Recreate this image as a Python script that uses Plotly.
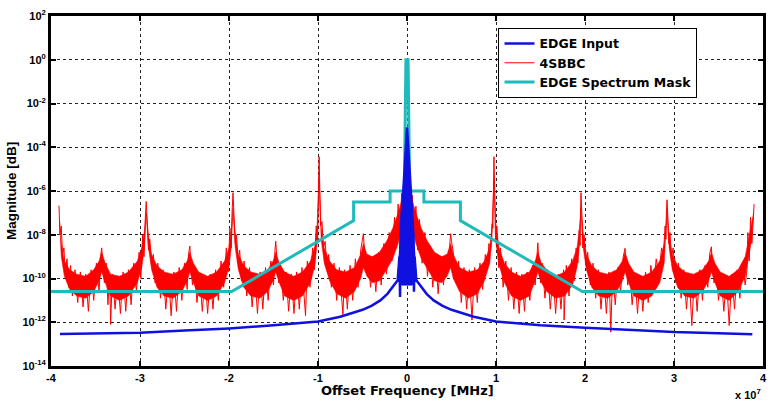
import plotly.graph_objects as go

# ---------------- data (x in units of 1e7, magnitudes as log10 values) ----------------
red_freq = [
    -3.91, -3.90, -3.885, -3.87, -3.855, -3.84, -3.82, -3.80, -3.78, -3.76, -3.73, -3.70, -3.67, -3.64,
    -3.61, -3.58, -3.55, -3.52, -3.49, -3.46, -3.44, -3.43, -3.42, -3.40, -3.38, -3.36, -3.34, -3.33,
    -3.31, -3.28, -3.25, -3.22, -3.19, -3.16, -3.13, -3.10, -3.07, -3.04, -3.01, -2.99, -2.97, -2.955,
    -2.94, -2.93, -2.92, -2.905, -2.89, -2.87, -2.85, -2.83, -2.80, -2.77, -2.74, -2.71, -2.68, -2.65,
    -2.62, -2.59, -2.56, -2.53, -2.50, -2.47, -2.455, -2.44, -2.43, -2.41, -2.39, -2.36, -2.33, -2.30,
    -2.27, -2.24, -2.21, -2.18, -2.15, -2.12, -2.09, -2.06, -2.03, -2.01, -1.99, -1.975, -1.965, -1.955,
    -1.945, -1.93, -1.915, -1.90, -1.88, -1.86, -1.83, -1.80, -1.77, -1.74, -1.71, -1.68, -1.65, -1.62,
    -1.59, -1.56, -1.53, -1.50, -1.485, -1.475, -1.46, -1.44, -1.42, -1.39, -1.36, -1.33, -1.30, -1.27,
    -1.24, -1.21, -1.18, -1.14, -1.12, -1.09, -1.06, -1.04, -1.02, -1.005, -0.995, -0.987, -0.98, -0.97,
    -0.955, -0.94, -0.92, -0.90, -0.88, -0.85, -0.82, -0.79, -0.76, -0.72, -0.70, -0.67, -0.64, -0.61,
    -0.58, -0.55, -0.52, -0.50, -0.49, -0.48, -0.46, -0.44, -0.41, -0.38, -0.35, -0.32, -0.29, -0.26,
    -0.23, -0.20, -0.17, -0.14, -0.12, -0.10, -0.08, -0.06, -0.045, -0.03, -0.015, 0.0,
    0.015, 0.03, 0.045, 0.06, 0.08, 0.10, 0.12, 0.14, 0.17, 0.20, 0.23, 0.26, 0.29, 0.32,
    0.35, 0.38, 0.41, 0.44, 0.46, 0.48, 0.49, 0.50, 0.52, 0.55, 0.58, 0.61, 0.64, 0.67,
    0.70, 0.73, 0.76, 0.79, 0.82, 0.85, 0.88, 0.90, 0.92, 0.94, 0.955, 0.965, 0.972, 0.977,
    0.985, 0.995, 1.01, 1.03, 1.05, 1.08, 1.11, 1.14, 1.17, 1.20, 1.23, 1.26, 1.29, 1.32,
    1.35, 1.38, 1.41, 1.44, 1.46, 1.47, 1.48, 1.50, 1.52, 1.55, 1.58, 1.61, 1.64, 1.67,
    1.70, 1.73, 1.76, 1.765, 1.79, 1.82, 1.85, 1.88, 1.90, 1.92, 1.935, 1.945, 1.95, 1.955,
    1.965, 1.975, 1.99, 2.01, 2.03, 2.06, 2.09, 2.12, 2.15, 2.18, 2.21, 2.24, 2.27, 2.29,
    2.31, 2.34, 2.37, 2.40, 2.43, 2.45, 2.46, 2.48, 2.50, 2.53, 2.56, 2.59, 2.62, 2.65,
    2.68, 2.71, 2.74, 2.77, 2.80, 2.83, 2.86, 2.88, 2.90, 2.91, 2.915, 2.922, 2.93, 2.94,
    2.955, 2.97, 2.99, 3.02, 3.05, 3.08, 3.11, 3.14, 3.17, 3.20, 3.23, 3.26, 3.29, 3.32,
    3.35, 3.38, 3.40, 3.42, 3.43, 3.45, 3.47, 3.50, 3.53, 3.56, 3.59, 3.62, 3.65, 3.68,
    3.71, 3.74, 3.77, 3.80, 3.82, 3.83, 3.845, 3.86, 3.875, 3.89, 3.90,
]
red_logmag = [
    -6.67, -8.0, -7.6, -8.9, -8.6, -9.7, -9.1, -10.4, -9.4, -10.8, -9.6, -11.1, -9.7, -11.3,
    -9.8, -11.5, -9.6, -11.0, -9.3, -10.6, -8.9, -8.6, -9.4, -10.2, -9.3, -11.2, -9.8, -12.1,
    -9.8, -11.4, -9.9, -11.6, -9.7, -11.5, -9.6, -11.2, -9.3, -10.6, -8.8, -10.0, -8.0, -9.0,
    -7.2, -6.48, -7.3, -8.7, -8.2, -9.4, -8.9, -10.2, -9.3, -10.9, -9.6, -11.4, -9.8, -11.7,
    -9.7, -11.5, -9.5, -11.0, -9.3, -10.5, -8.9, -8.52, -9.3, -10.3, -9.5, -11.1, -9.8, -11.5,
    -9.9, -11.6, -9.8, -11.4, -9.6, -11.0, -9.2, -10.4, -8.6, -9.7, -7.7, -8.6, -6.9, -6.08,
    -7.0, -8.4, -8.0, -9.3, -8.7, -10.1, -9.2, -10.8, -9.5, -11.3, -9.8, -11.6, -9.7, -11.4,
    -9.5, -11.0, -9.2, -10.3, -8.8, -8.3, -9.2, -10.2, -9.4, -11.0, -9.7, -11.5, -9.8, -11.6,
    -9.7, -11.4, -9.5, -11.7, -9.2, -10.4, -8.6, -9.6, -7.6, -8.4, -5.8, -4.43, -5.9, -7.6,
    -7.4, -8.6, -8.3, -9.5, -8.9, -10.4, -9.3, -11.0, -9.5, -11.65, -9.6, -11.4, -9.4, -11.0,
    -9.1, -10.4, -8.7, -8.2, -7.95, -8.6, -9.6, -8.9, -10.4, -9.1, -10.6, -8.8, -10.3, -8.4,
    -9.8, -7.9, -9.2, -7.2, -8.6, -6.6, -8.0, -6.1, -7.3, -6.0, -6.5, -6.0,
    -6.4, -6.1, -7.4, -6.2, -8.1, -6.7, -8.7, -7.3, -9.3, -7.9, -9.9, -8.5, -10.4, -8.9,
    -10.7, -9.0, -10.3, -8.9, -9.5, -8.5, -7.95, -8.3, -8.8, -10.2, -9.2, -11.1, -9.5, -11.4,
    -9.6, -11.9, -9.5, -11.1, -9.3, -10.5, -8.9, -9.6, -8.4, -8.7, -7.5, -7.7, -5.9, -4.43,
    -5.9, -8.3, -7.6, -9.5, -8.6, -10.4, -9.2, -11.0, -9.5, -11.4, -9.7, -11.6, -9.8, -11.5,
    -9.7, -11.0, -9.4, -10.3, -9.0, -8.37, -9.1, -10.2, -9.3, -10.9, -9.6, -11.4, -9.8, -11.6,
    -9.8, -11.4, -9.6, -11.9, -9.4, -10.8, -9.1, -10.1, -8.6, -9.3, -7.8, -8.5, -6.9, -6.08,
    -7.1, -8.6, -8.0, -9.4, -8.8, -10.3, -9.3, -10.9, -9.6, -11.4, -9.8, -11.6, -9.7, -12.45,
    -9.7, -11.2, -9.5, -10.6, -9.0, -8.62, -9.2, -10.3, -9.5, -11.2, -9.8, -11.6, -9.9, -11.5,
    -9.7, -11.1, -9.4, -10.5, -9.1, -9.9, -8.6, -9.0, -7.6, -8.2, -6.9, -6.4, -7.1, -8.4,
    -7.9, -9.1, -8.6, -10.2, -9.3, -10.9, -9.6, -11.4, -9.8, -12.15, -9.8, -11.5, -9.6, -11.0,
    -9.4, -10.4, -8.9, -8.55, -9.3, -10.2, -9.5, -11.0, -9.8, -11.5, -9.9, -12.15, -9.8, -11.4,
    -9.6, -10.9, -9.3, -10.3, -9.6, -7.9, -9.2, -7.2, -8.4, -6.9, -6.6,
]

# dense core of the 4SBBC noise band: upper and lower edges (log10)
band_freq = [
    -3.905, -3.885, -3.85, -3.79, -3.71, -3.61, -3.52, -3.46, -3.43, -3.39, -3.33, -3.23, -3.13, -3.03, -2.98, -2.95, -2.93,
    -2.905, -2.87, -2.81, -2.73, -2.63, -2.53, -2.47, -2.44, -2.40, -2.34, -2.24, -2.14, -2.05, -2.00, -1.975, -1.955,
    -1.93, -1.895, -1.835, -1.755, -1.655, -1.565, -1.505, -1.475, -1.435, -1.375, -1.275, -1.175, -1.085, -1.035, -1.01, -0.987,
    -0.965, -0.93, -0.87, -0.79, -0.69, -0.59, -0.52, -0.49, -0.45, -0.39, -0.31, -0.23, -0.16, -0.10, -0.05, 0.0,
    0.05, 0.10, 0.16, 0.23, 0.31, 0.39, 0.45, 0.49, 0.52, 0.59, 0.69, 0.79, 0.87, 0.93, 0.955, 0.977,
    1.00, 1.035, 1.095, 1.175, 1.275, 1.375, 1.44, 1.47, 1.51, 1.57, 1.67, 1.77, 1.86, 1.91, 1.935, 1.955,
    1.98, 2.015, 2.075, 2.155, 2.255, 2.355, 2.42, 2.45, 2.49, 2.55, 2.65, 2.75, 2.84, 2.89, 2.905, 2.922,
    2.945, 2.98, 3.04, 3.12, 3.22, 3.32, 3.39, 3.42, 3.46, 3.52, 3.62, 3.72, 3.80, 3.84, 3.87, 3.895,
]
band_upper = [
    -7.3, -8.4, -9.2, -9.6, -9.8, -9.9, -9.6, -9.2, -8.8, -9.3, -9.8, -9.9, -9.7, -9.2, -8.6, -7.8, -7.0,
    -8.0, -8.9, -9.4, -9.7, -9.8, -9.6, -9.2, -8.8, -9.3, -9.7, -9.9, -9.7, -9.2, -8.6, -7.8, -6.8,
    -7.9, -8.9, -9.4, -9.7, -9.8, -9.6, -9.2, -8.8, -9.3, -9.7, -9.9, -9.7, -9.2, -8.5, -7.5, -5.5,
    -7.6, -8.6, -9.2, -9.6, -9.7, -9.5, -8.9, -8.4, -8.9, -9.0, -8.8, -8.3, -7.7, -7.0, -6.3, -6.1,
    -6.3, -7.0, -7.7, -8.3, -8.8, -9.0, -8.9, -8.4, -8.9, -9.5, -9.7, -9.6, -9.2, -8.6, -7.6, -5.5,
    -7.5, -8.6, -9.3, -9.7, -9.9, -9.7, -9.2, -8.8, -9.3, -9.6, -9.9, -9.7, -9.2, -8.6, -7.8, -6.8,
    -7.9, -8.9, -9.4, -9.7, -9.8, -9.6, -9.2, -8.8, -9.3, -9.7, -9.9, -9.7, -9.2, -8.4, -7.8, -6.9,
    -8.0, -8.9, -9.4, -9.7, -9.8, -9.6, -9.2, -8.8, -9.3, -9.7, -9.9, -9.6, -9.0, -8.2, -7.6, -7.0,
]
band_lower = [
    -7.3, -9.0, -9.9, -10.5, -10.8, -10.9, -10.6, -10.1, -9.7, -10.2, -10.8, -11.0, -10.8, -10.2, -9.5, -8.6, -7.0,
    -8.6, -9.6, -10.4, -10.8, -10.9, -10.6, -10.1, -9.7, -10.2, -10.8, -11.0, -10.8, -10.2, -9.5, -8.6, -6.8,
    -8.6, -9.6, -10.4, -10.8, -10.9, -10.6, -10.1, -9.7, -10.2, -10.8, -11.0, -10.8, -10.2, -9.4, -8.4, -5.5,
    -8.2, -9.3, -10.1, -10.7, -10.9, -10.6, -10.0, -9.5, -9.9, -10.2, -10.1, -9.6, -9.1, -8.4, -7.6, -7.2,
    -7.6, -8.4, -9.1, -9.6, -10.1, -10.2, -9.9, -9.5, -10.0, -10.6, -10.9, -10.7, -10.1, -9.3, -8.2, -5.5,
    -8.4, -9.4, -10.2, -10.8, -11.0, -10.8, -10.1, -9.7, -10.2, -10.6, -10.9, -10.8, -10.3, -9.5, -8.6, -6.8,
    -8.6, -9.6, -10.4, -10.8, -10.9, -10.6, -10.1, -9.7, -10.2, -10.8, -11.0, -10.8, -10.2, -9.3, -8.6, -6.9,
    -8.6, -9.6, -10.4, -10.8, -10.9, -10.6, -10.1, -9.7, -10.2, -10.8, -11.0, -10.6, -9.9, -9.0, -8.3, -7.0,
]

blue_freq = [-3.90, -3.5, -3.0, -2.5, -2.0, -1.5, -1.0, -0.75, -0.5, -0.4, -0.3, -0.22, -0.17, -0.13,
             -0.105, -0.085, -0.078, -0.072, -0.066, -0.04, -0.02, 0.0, 0.02, 0.04, 0.066, 0.072,
             0.078, 0.085, 0.105, 0.13, 0.17, 0.22, 0.3, 0.4, 0.5, 0.75, 1.0, 1.5, 2.0, 2.5, 3.0,
             3.5, 3.88]
blue_logmag = [-12.54, -12.52, -12.48, -12.38, -12.28, -12.14, -11.97, -11.75, -11.43, -11.25, -11.0,
               -10.7, -10.45, -10.22, -10.08, -9.0, -10.85, -8.0, -7.4, -5.9, -4.4, -3.1, -4.4, -5.9,
               -7.4, -8.0, -10.6, -9.0, -10.08, -10.22, -10.45, -10.7, -11.0, -11.25, -11.43, -11.75,
               -11.97, -12.14, -12.25, -12.35, -12.45, -12.5, -12.55]

# dense central part of the input spectrum (outline of the filled spike)
core_freq = [-0.105, -0.088, -0.066, -0.04, -0.02, 0.0, 0.02, 0.04, 0.066, 0.088, 0.105, 0.06, 0.0, -0.06, -0.105]
core_logmag = [-10.08, -8.9, -7.4, -5.9, -4.4, -3.1, -4.4, -5.9, -7.4, -8.9, -10.08, -10.3, -10.3, -10.3, -10.08]

mask_freq = [-4, -1.97, -0.6, -0.6, -0.19, -0.19, -0.03, -0.012, 0.012, 0.03, 0.19, 0.19, 0.6, 0.6, 1.97, 4]
mask_logmag = [-10.6, -10.6, -7.35, -6.5, -6.5, -6.0, -6.0, 0.0, 0.0, -6.0, -6.0, -6.5, -6.5, -7.35, -10.6, -10.6]

x_ticks = [-4, -3, -2, -1, 0, 1, 2, 3, 4]
y_tick_exps = [-14, -12, -10, -8, -6, -4, -2, 0, 2]

# ---------------- figure ----------------
BLUE = "#1010E0"
RED = "#FF0000"
CYAN = "#1FBABA"


def lin(v):
    return [10 ** e for e in v]


fig = go.Figure()
# filled noise band (polygon: upper edge left->right, lower edge right->left)
fig.add_trace(go.Scatter(x=band_freq + band_freq[::-1], y=lin(band_upper + band_lower[::-1]),
                         mode="lines", fill="toself", fillcolor=RED,
                         line=dict(color=RED, width=0.5), showlegend=False, hoverinfo="skip"))
fig.add_trace(go.Scatter(x=red_freq, y=lin(red_logmag), mode="lines", name="4SBBC",
                         line=dict(color=RED, width=1), legendrank=2))
fig.add_trace(go.Scatter(x=mask_freq, y=lin(mask_logmag), mode="lines", name="EDGE Spectrum Mask",
                         line=dict(color=CYAN, width=3), legendrank=3))
fig.add_trace(go.Scatter(x=core_freq, y=lin(core_logmag), mode="lines", fill="toself",
                         fillcolor=BLUE, line=dict(color=BLUE, width=1), showlegend=False,
                         hoverinfo="skip"))
fig.add_trace(go.Scatter(x=blue_freq, y=lin(blue_logmag), mode="lines", name="EDGE Input",
                         line=dict(color=BLUE, width=2.5), legendrank=1))

tick_font = dict(family="Liberation Sans, Arial", size=11, color="black", weight="bold")
axis_common = dict(showline=True, linewidth=3, linecolor="black", mirror="ticks",
                   ticks="inside", ticklen=5, tickwidth=1.5, tickcolor="black",
                   showgrid=True, gridcolor="#222222", griddash="dot", gridwidth=1,
                   zeroline=False, tickfont=tick_font)

fig.update_xaxes(range=[-4, 4], tickvals=x_ticks, ticktext=[str(t) for t in x_ticks], **axis_common)
fig.update_yaxes(type="log", range=[-14, 2], tickvals=[10.0 ** e for e in y_tick_exps],
                 ticktext=["10<sup>%d</sup>" % e for e in y_tick_exps], **axis_common)

fig.update_layout(
    width=775, height=404,
    margin=dict(l=51, r=8, t=10, b=38),
    plot_bgcolor="white", paper_bgcolor="white",
    showlegend=True,
    legend=dict(x=0.6285, y=0.966, xanchor="left", yanchor="top",
                bgcolor="white", bordercolor="black", borderwidth=1,
                font=dict(family="DejaVu Sans", size=12.5, color="black", weight="bold"),
                itemwidth=30, tracegroupgap=0),
    annotations=[
        dict(text="<b>Magnitude [dB]</b>", textangle=-90, xref="paper", yref="paper",
             x=0, y=0.5, xshift=-40, showarrow=False, xanchor="center", yanchor="middle",
             font=dict(family="Liberation Sans, Arial", size=13.5, color="black")),
        dict(text="<b>Offset Frequency [MHz]</b>", xref="paper", yref="paper", x=0.5, y=0,
             yshift=-24, showarrow=False, xanchor="center", yanchor="middle",
             font=dict(family="DejaVu Sans", size=13, color="black")),
        dict(text="<b>x 10<sup>7</sup></b>", xref="paper", yref="paper", x=1, y=0,
             xshift=0, yshift=-28, showarrow=False, xanchor="right", yanchor="middle",
             font=dict(family="Liberation Sans, Arial", size=11, color="black")),
    ],
)

fig.write_html("out.html")
